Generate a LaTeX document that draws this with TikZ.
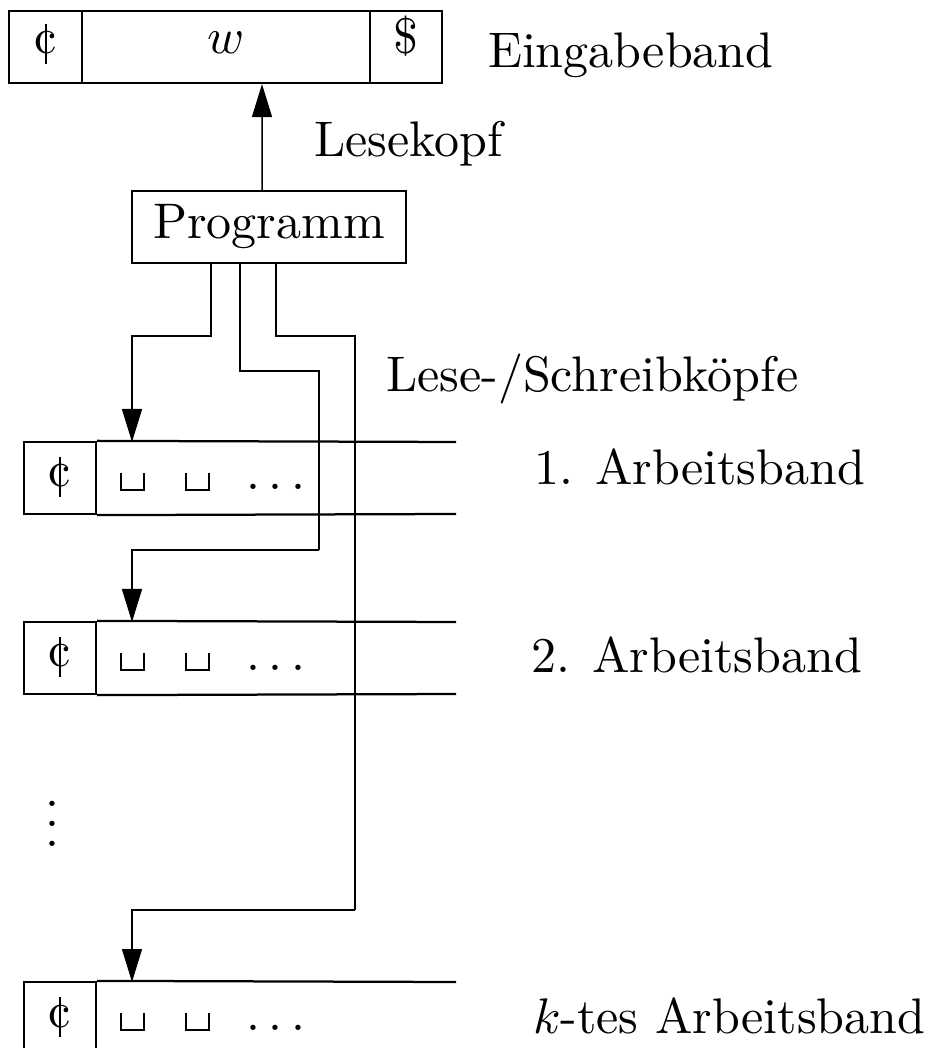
\documentclass[tikz,border=0pt]{standalone}
\usetikzlibrary{arrows.meta}
\newcommand\centsym{\ooalign{\hfil\rule[-2pt]{0.4pt}{8pt}\hfil\cr c}}
\newcommand\blanksym{\rule{0.4pt}{3.6pt}\rule{4.2pt}{0.4pt}\rule{0.4pt}{3.6pt}}
\begin{document}
\begin{tikzpicture}[x=0.2pt,y=-0.2pt,
  cell/.style={draw,line width=0.45pt,inner sep=0pt,minimum height=14.4pt},
  tapeline/.style={line width=0.45pt},
  conn/.style={line width=0.3pt,-{Triangle[length=6.6pt,width=4pt]}},
  wire/.style={line width=0.3pt},
  txt/.style={inner sep=0pt,anchor=base},
  lbl/.style={inner sep=0pt,anchor=base west}]
\useasboundingbox (0,0) rectangle (927,1048);
% input tape
\node[cell,minimum width=14.6pt] (ic) at (45.5,47) {};
\node[cell,minimum width=57.6pt] (iw) at (226,47) {};
\node[cell,minimum width=14.4pt] (id) at (406,47) {};
\node[txt] (icT) at (45.5,54) {\centsym};
\node[txt] (iwT) at (226,54) {$w$};
\node[txt] (idT) at (406,54) {\$};
\node[lbl] (eb) at (487,68) {Eingabeband};
% program
\node[draw,line width=0.45pt,minimum width=54.8pt,minimum height=14.4pt,inner sep=0pt] (prog) at (269,227) {Programm};
\coordinate (rh) at ([xshift=7.2pt]iw.south);
\draw[conn] ([xshift=-1.4pt]prog.north) -- (rh);
\node[lbl] (lk) at (313,157) {Lesekopf};
\node[lbl] (lsk) at (385,392) {Lese-/Schreibköpfe};
% work tapes
\foreach \n/\y in {1/0,2/180,k/540}{
  \node[cell,minimum width=14.4pt] (c\n) at (60,478+\y) {};
  \draw[tapeline] (c\n.north east) -- (456,442+\y);
  \draw[tapeline] (c\n.south east) -- (456,514+\y);
  \node[txt] (c\n T) at (60,487+\y) {\centsym};
  \node[txt] (b\n a) at (132,491+\y) {\blanksym};
  \node[txt] (b\n b) at (197,491+\y) {\blanksym};
  \node[txt] (d\n) at (276,490+\y) {$\ldots$};
  \coordinate (h\n) at (132,442+\y);
}
\node[lbl] (a1) at (533,485) {1. Arbeitsband};
\node[lbl] (a2) at (530,672) {2. Arbeitsband};
\node[lbl] (ak) at (532,1033) {$k$-tes Arbeitsband};
\node[txt] (vd) at (52,846) {$\vdots$};
% heads
\draw[conn] ([xshift=-11.6pt]prog.south) -- ++(0,72) -| (h1);
\draw[wire] ([xshift=-5.8pt]prog.south) -- ++(0,107) -| (319,550) coordinate (m2);
\draw[conn] (m2) -| (h2);
\draw[wire] ([xshift=1.4pt]prog.south) -- ++(0,72) -| (355,910) coordinate (mk);
\draw[conn] (mk) -| (hk);
\end{tikzpicture}
\end{document}
